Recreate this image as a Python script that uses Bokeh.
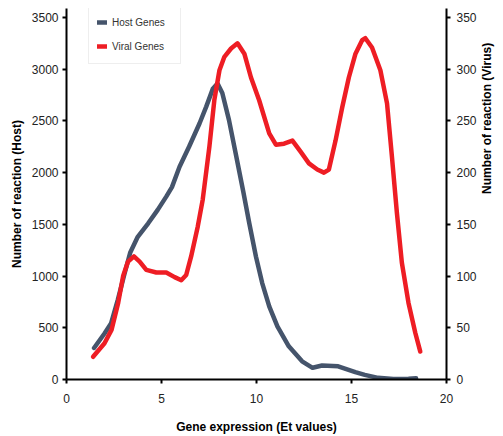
import math
from bokeh.plotting import figure
from bokeh.models import Range1d, LinearAxis, Legend, LegendItem, FixedTicker
from bokeh.embed import file_html
from bokeh.resources import INLINE

host_x = [1.45, 2.0, 2.35, 2.7, 3.05, 3.35, 3.75, 4.3, 4.8, 5.25, 5.55, 5.95, 6.45, 7.0,
          7.35, 7.7, 7.95, 8.2, 8.55, 8.9, 9.3, 9.62, 9.97, 10.3, 10.67, 11.1, 11.7, 12.4,
          12.95, 13.45, 14.3, 15.2, 15.7, 16.4, 17.2, 18.0, 18.4]
host_y = [305, 445, 545, 770, 1020, 1225, 1380, 1510, 1640, 1768, 1860, 2057, 2250, 2475,
          2636, 2810, 2861, 2770, 2510, 2190, 1820, 1511, 1189, 932, 707, 514, 321, 176,
          113, 135, 128, 71, 45, 16, 5, 8, 12]

viral_x = [1.4, 2.0, 2.37, 2.72, 2.98, 3.24, 3.55, 3.85, 4.2, 4.73, 5.25, 5.69, 6.04, 6.3,
           6.56, 6.91, 7.17, 7.52, 7.78, 8.05, 8.31, 8.66, 9.0, 9.36, 9.71, 10.14, 10.67,
           11.02, 11.45, 11.89, 12.33, 12.76, 13.2, 13.55, 13.81, 14.16, 14.51, 14.86,
           15.21, 15.56, 15.73, 16.08, 16.52, 16.87, 17.13, 17.39, 17.65, 18.0, 18.36, 18.62]
viral_y = [22, 35, 48, 74, 100, 114, 119, 114, 106, 103.5, 103.5, 99, 96, 101,
           119, 148, 174, 225, 270, 299, 312, 320, 325, 315, 292, 270, 238,
           227, 228, 231, 220, 209, 203, 200, 203, 231, 263, 292,
           315, 328, 330, 321, 299, 267, 215, 161, 113, 74, 45, 27]

x_ticks = [0, 5, 10, 15, 20]
host_ticks = [0, 500, 1000, 1500, 2000, 2500, 3000, 3500]
virus_ticks = [0, 50, 100, 150, 200, 250, 300, 350]

HOST_COLOR = "#45546b"
VIRAL_COLOR = "#ee1d24"
FONT = "Liberation Sans"

p = figure(width=503, height=436, output_backend="svg", toolbar_location=None,
           x_range=Range1d(0, 20), y_range=Range1d(0, 3587),
           min_border_left=66, min_border_right=55, min_border_top=8, min_border_bottom=56)
p.extra_y_ranges = {"virus": Range1d(0, 358.7)}

p.outline_line_color = None
p.xgrid.visible = False
p.ygrid.visible = False
p.background_fill_color = "white"

r_host = p.line(host_x, host_y, line_color=HOST_COLOR, line_width=4.5,
                line_join="round", line_cap="round")
r_viral = p.line(viral_x, viral_y, line_color=VIRAL_COLOR, line_width=4.5,
                 line_join="round", line_cap="round", y_range_name="virus")

right_axis = LinearAxis(y_range_name="virus")
p.add_layout(right_axis, "right")

p.xaxis.ticker = FixedTicker(ticks=x_ticks)
p.yaxis[0].ticker = FixedTicker(ticks=host_ticks)
right_axis.ticker = FixedTicker(ticks=virus_ticks)

p.xaxis.axis_label = "Gene expression (Et values)"
p.yaxis[0].axis_label = "Number of reaction (Host)"
right_axis.axis_label = "Number of reaction (Virus)"

for ax in [p.xaxis[0], p.yaxis[0], right_axis]:
    ax.axis_line_color = "black"
    ax.axis_line_width = 2
    ax.major_tick_line_color = "black"
    ax.major_tick_line_width = 2
    ax.major_tick_out = 4
    ax.major_tick_in = 0
    ax.minor_tick_line_color = None
    ax.major_label_text_font = FONT
    ax.major_label_text_font_size = "12px"
    ax.major_label_text_color = "#222222"
    ax.axis_label_text_font = FONT
    ax.axis_label_text_font_size = "12px"
    ax.axis_label_text_font_style = "bold"
    ax.axis_label_text_color = "black"

p.xaxis.major_label_standoff = 10
p.xaxis.axis_label_standoff = 14
p.yaxis[0].major_label_standoff = 4
right_axis.major_label_standoff = 6
right_axis.axis_label_standoff = 7
right_axis.axis_label_orientation = math.pi / 2

legend = Legend(items=[LegendItem(label="Host Genes", renderers=[r_host]),
                       LegendItem(label="Viral Genes", renderers=[r_viral])],
                location=(22, 315))
legend.label_text_font = FONT
legend.label_text_font_size = "10px"
legend.label_text_color = "#333333"
legend.glyph_width = 10
legend.glyph_height = 18
legend.label_height = 18
legend.label_width = 60
legend.label_standoff = 5
legend.spacing = 6
legend.padding = 8
legend.margin = 0
legend.border_line_color = "#dddddd"
legend.border_line_width = 1
legend.background_fill_color = "white"
legend.background_fill_alpha = 1
p.add_layout(legend, "center")

open("out.html", "w").write(file_html(p, INLINE))
